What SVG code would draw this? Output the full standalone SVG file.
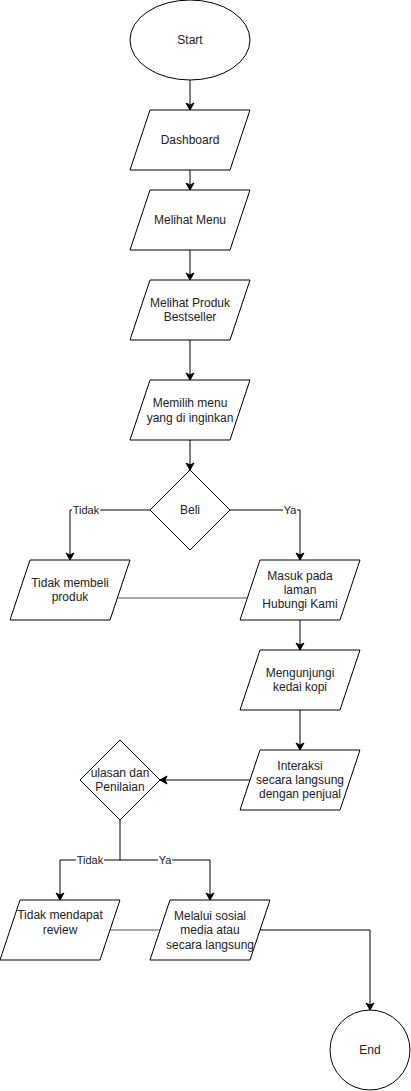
<svg xmlns="http://www.w3.org/2000/svg" width="411" height="1091" viewBox="0 0 411 1091">
<defs>
<marker id="arr" markerWidth="10" markerHeight="10" refX="8" refY="5" orient="auto" markerUnits="userSpaceOnUse">
<path d="M1,1 L8,5 L1,9 L3,5 Z" fill="#000" stroke="#000" stroke-width="1"/>
</marker>
</defs>
<style>
.s{fill:#fff;stroke:#000;stroke-width:1}
.t{font-family:"Liberation Sans",Arial,sans-serif;font-size:12px;fill:#222;text-anchor:middle;dominant-baseline:central}
.l{font-family:"Liberation Sans",Arial,sans-serif;font-size:11px;fill:#222;text-anchor:middle;dominant-baseline:central}
.e{fill:none;stroke:#000;stroke-width:1}
.g{fill:none;stroke:#555;stroke-width:1.2}
.lb{fill:#fff}
</style>
<rect width="411" height="1091" fill="#fff"/>
<g id="connectors">
<path class="e" d="M190,80 V110" marker-end="url(#arr)"/>
<path class="e" d="M190,170 V190" marker-end="url(#arr)"/>
<path class="e" d="M190,250 V280" marker-end="url(#arr)"/>
<path class="e" d="M190,340 V380" marker-end="url(#arr)"/>
<path class="e" d="M190,440 V470" marker-end="url(#arr)"/>
<path class="e" d="M150,510 H70 V560" marker-end="url(#arr)"/>
<path class="e" d="M230,510 H300 V560" marker-end="url(#arr)"/>
<path class="g" d="M117,598 H247"/>
<path class="e" d="M300,620 V650" marker-end="url(#arr)"/>
<path class="e" d="M300,710 V750" marker-end="url(#arr)"/>
<path class="e" d="M250,780 H160" marker-end="url(#arr)"/>
<path class="e" d="M120,820 V860 H60 V900" marker-end="url(#arr)"/>
<path class="e" d="M120,860 H210 V900" marker-end="url(#arr)"/>
<path class="g" d="M110,930 H160"/>
<path class="e" d="M260,930 H370 V1010" marker-end="url(#arr)"/>
<rect class="lb" x="72" y="503" width="28" height="14"/>
<text class="l" x="86" y="510">Tidak</text>
<rect class="lb" x="283" y="503" width="14" height="14"/>
<text class="l" x="290" y="510">Ya</text>
<rect class="lb" x="76" y="853" width="28" height="14"/>
<text class="l" x="90" y="860">Tidak</text>
<rect class="lb" x="158" y="853" width="14" height="14"/>
<text class="l" x="165" y="860">Ya</text>
</g>
<g id="start">
<ellipse class="s" cx="190" cy="40" rx="60" ry="40"/>
<text class="t" x="190" y="40">Start</text>
</g>
<g id="dashboard">
<polygon class="s" points="150,110 250,110 230,170 130,170"/>
<text class="t" x="190" y="140">Dashboard</text>
</g>
<g id="melihat-menu">
<polygon class="s" points="150,190 250,190 230,250 130,250"/>
<text class="t" x="190" y="220">Melihat Menu</text>
</g>
<g id="melihat-produk">
<polygon class="s" points="150,280 250,280 230,340 130,340"/>
<text class="t" x="190" y="303">Melihat Produk</text>
<text class="t" x="190" y="317">Bestseller</text>
</g>
<g id="memilih-menu">
<polygon class="s" points="150,380 250,380 230,440 130,440"/>
<text class="t" x="190" y="403">Memilih menu</text>
<text class="t" x="190" y="418">yang di inginkan</text>
</g>
<g id="beli">
<polygon class="s" points="190,470 230,510 190,550 150,510"/>
<text class="t" x="190" y="510">Beli</text>
</g>
<g id="tidak-membeli">
<polygon class="s" points="30,560 130,560 110,620 10,620"/>
<text class="t" x="70" y="583">Tidak membeli</text>
<text class="t" x="70" y="597">produk</text>
</g>
<g id="masuk-laman">
<polygon class="s" points="260,560 360,560 340,620 240,620"/>
<text class="t" x="300" y="576">Masuk pada</text>
<text class="t" x="300" y="590">laman</text>
<text class="t" x="300" y="604">Hubungi Kami</text>
</g>
<g id="mengunjungi">
<polygon class="s" points="260,650 360,650 340,710 240,710"/>
<text class="t" x="300" y="673">Mengunjungi</text>
<text class="t" x="300" y="687">kedai kopi</text>
</g>
<g id="interaksi">
<polygon class="s" points="260,750 360,750 340,810 240,810"/>
<text class="t" x="300" y="766">Interaksi</text>
<text class="t" x="300" y="780">secara langsung</text>
<text class="t" x="300" y="794">dengan penjual</text>
</g>
<g id="ulasan">
<polygon class="s" points="120,740 160,780 120,820 80,780"/>
<text class="t" x="120" y="773">ulasan dan</text>
<text class="t" x="120" y="787">Penilaian</text>
</g>
<g id="tidak-review">
<polygon class="s" points="20,900 120,900 100,960 0,960"/>
<text class="t" x="60" y="915">Tidak mendapat</text>
<text class="t" x="60" y="930">review</text>
</g>
<g id="melalui">
<polygon class="s" points="170,900 270,900 250,960 150,960"/>
<text class="t" x="210" y="916">Melalui sosial</text>
<text class="t" x="210" y="930">media atau</text>
<text class="t" x="210" y="945">secara langsung</text>
</g>
<g id="end">
<circle class="s" cx="370" cy="1050" r="40"/>
<text class="t" x="370" y="1050">End</text>
</g>
</svg>
